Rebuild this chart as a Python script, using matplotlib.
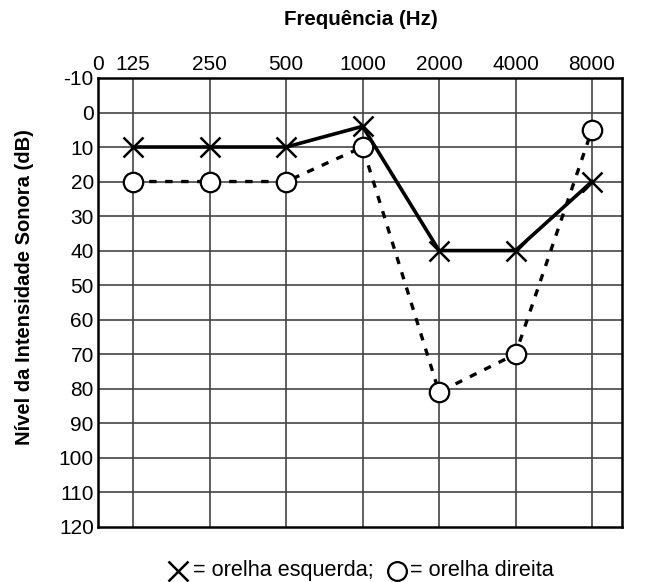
import matplotlib
matplotlib.use("Agg")
import matplotlib.pyplot as plt
from matplotlib.lines import Line2D

plt.rcParams['font.family'] = ['Liberation Sans', 'DejaVu Sans']

freq_labels = ['125', '250', '500', '1000', '2000', '4000', '8000']
left_ear = [10, 10, 10, 4, 40, 40, 20]
right_ear = [20, 20, 20, 10, 81, 70, 5]
y_ticks = list(range(-10, 121, 10))

fig = plt.figure(figsize=(6.45, 5.82), dpi=100)
ax = fig.add_axes([0.152, 0.095, 0.812, 0.771])

x = list(range(1, len(freq_labels) + 1))
x0 = 0.54
ax.set_xlim(x0, 7.39)
ax.set_ylim(120, -10)

ax.set_xticks([x0] + x)
ax.set_xticklabels(['0'] + freq_labels, fontsize=15)
ax.set_yticks(y_ticks)
ax.set_yticklabels([str(v) for v in y_ticks], fontsize=15)
ax.xaxis.tick_top()
ax.tick_params(length=0, pad=3)

for xi in x:
    ax.axvline(xi, color='#444444', lw=1.2, zorder=1)
for yv in y_ticks[1:-1]:
    ax.axhline(yv, color='#444444', lw=1.2, zorder=1)

for s in ax.spines.values():
    s.set_linewidth(1.8)
    s.set_color('black')

ax.plot(x, right_ear, color='black', lw=2.4, ls=(0, (2.2, 2.6)),
        marker='o', ms=14, mfc='white', mec='black', mew=1.6, zorder=3)
ax.plot(x, left_ear, color='black', lw=2.6, ls='-',
        marker='x', ms=15, mec='black', mew=1.8, zorder=4)

fig.text(0.56, 0.966, 'Frequência (Hz)', ha='center', va='center',
         fontsize=14.8, fontweight='bold')
fig.text(0.038, 0.507, 'Nível da Intensidade Sonora (dB)', ha='center', va='center',
         rotation=90, fontsize=14.5, fontweight='bold')

# legend line at bottom
ly = 0.019
fig.add_artist(Line2D([0.276], [ly], marker='x', ms=14.5, mew=1.8, color='black',
                      transform=fig.transFigure))
fig.text(0.299, ly, '= orelha esquerda;', ha='left', va='center', fontsize=15.6)
fig.add_artist(Line2D([0.616], [ly], marker='o', ms=13.5, mew=1.6, mfc='white',
                      color='black', transform=fig.transFigure))
fig.text(0.636, ly, '= orelha direita', ha='left', va='center', fontsize=15.6)

fig.savefig('out.png', dpi=100)
